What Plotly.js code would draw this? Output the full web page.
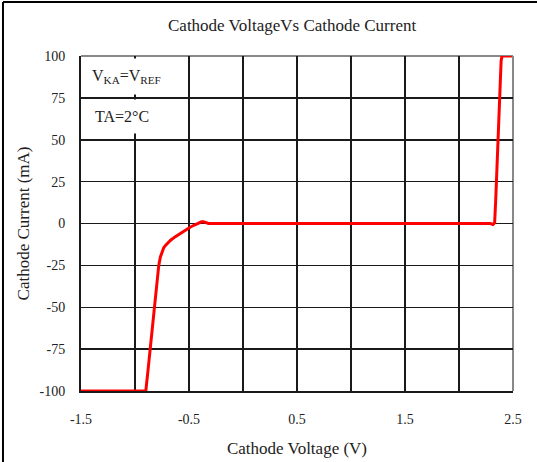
<!DOCTYPE html>
<html>
<head>
<meta charset="utf-8">
<script src="https://cdn.plot.ly/plotly-3.0.1.min.js"></script>
<style>
html,body{margin:0;padding:0;background:#fff;}
#chart{width:537px;height:462px;}
</style>
</head>
<body>
<div id="chart"></div>
<script>
// Cathode voltage (V) and cathode current (mA)
const voltage = [-1.5, -0.9, -0.88, -0.86, -0.84, -0.825, -0.81, -0.795, -0.78, -0.765, -0.75, -0.735, -0.72, -0.70, -0.67, -0.63, -0.58, -0.53, -0.49, -0.45, -0.41, -0.385, -0.365, -0.34, -0.32, 0.0, 0.5, 1.0, 1.5, 2.0, 2.29, 2.315, 2.33, 2.34, 2.35, 2.36, 2.37, 2.38, 2.39, 2.398, 2.49];
const current = [-100, -100, -88, -75, -62, -52, -42, -33, -25, -20, -16.8, -14.6, -13.2, -11.8, -10, -8, -5.8, -3.8, -2.2, -0.9, 0.4, 1.0, 1.0, 0.3, 0, 0, 0, 0, 0, 0, 0, -0.6, 0.5, 14, 31, 50, 70, 88, 97, 100, 100];

const xTickVals = [-1.5, -0.5, 0.5, 1.5, 2.5];
const xTickText = ['-1.5', '-0.5', '0.5', '1.5', '2.5'];
const xMinorVals = [-1.0, 0.0, 1.0, 2.0];
const yTickVals = [-100, -75, -50, -25, 0, 25, 50, 75, 100];
const yTickText = ['-100', '-75', '-50', '-25', '0', '25', '50', '75', '100'];

const titleText = 'Cathode VoltageVs Cathode Current';
const xTitle = 'Cathode Voltage (V)';
const yTitle = 'Cathode Current (mA)';
const note1 = 'V<sub>KA</sub>=V<sub>REF</sub>';
const note2 = 'TA=2°C';

const FONT = '"Liberation Serif", "Times New Roman", "DejaVu Serif", serif';

const trace = {
  x: voltage, y: current, type: 'scatter', mode: 'lines',
  line: {color: '#ff0000', width: 3},
  hoverinfo: 'skip', showlegend: false
};

const layout = {
  width: 537, height: 462,
  margin: {l: 81, r: 24, t: 56, b: 71, pad: 0},
  paper_bgcolor: '#ffffff', plot_bgcolor: '#ffffff',
  font: {family: FONT, color: '#222', size: 14},
  showlegend: false,
  title: {text: titleText, font: {family: FONT, size: 17, color: '#222'},
          x: 0.544, xref: 'container', xanchor: 'center', y: 0.946, yref: 'container', yanchor: 'middle'},
  xaxis: {
    range: [-1.5, 2.5], tickmode: 'array', tickvals: xTickVals, ticktext: xTickText,
    showgrid: true, gridcolor: '#1a1a1a', gridwidth: 1.5, zeroline: false,
    minor: {tickmode: 'array', tickvals: xMinorVals, showgrid: true, gridcolor: '#1a1a1a', gridwidth: 1.5, ticks: ''},
    showline: true, linecolor: '#1a1a1a', linewidth: 2, layer: 'below traces',
    ticks: 'outside', ticklen: 14, tickcolor: 'rgba(0,0,0,0)',
    tickfont: {family: FONT, size: 14, color: '#222'},
    title: {text: xTitle, font: {family: FONT, size: 17, color: '#222'}, standoff: 16},
    fixedrange: true
  },
  yaxis: {
    range: [-100, 100], tickmode: 'array', tickvals: yTickVals, ticktext: yTickText,
    showgrid: true, gridcolor: '#1a1a1a', gridwidth: 1.5, zeroline: false,
    showline: true, linecolor: '#1a1a1a', linewidth: 2, layer: 'below traces',
    ticks: 'outside', ticklen: 11, tickcolor: 'rgba(0,0,0,0)',
    tickfont: {family: FONT, size: 14, color: '#222'},
    title: {text: yTitle, font: {family: FONT, size: 17, color: '#222'}, standoff: 6},
    fixedrange: true
  },
  shapes: [
    {type: 'line', xref: 'paper', yref: 'paper', x0: 0, x1: 1, y0: 1, y1: 1, layer: 'between', line: {color: '#888888', width: 2}},
    {type: 'line', xref: 'paper', yref: 'paper', x0: 1, x1: 1, y0: 0, y1: 1, layer: 'between', line: {color: '#888888', width: 2}},
    {type: 'line', xref: 'paper', yref: 'paper', x0: -0.1806, x1: 1.06, y0: 1.1612, y1: 1.1612, line: {color: '#000', width: 2}},
    {type: 'line', xref: 'paper', yref: 'paper', x0: -0.1806, x1: -0.1806, y0: -0.22, y1: 1.1612, line: {color: '#000', width: 2}}
  ],
  annotations: [
    {text: note1, xref: 'paper', yref: 'paper', x: 0.0046, y: 0.938, xanchor: 'left', yanchor: 'middle',
     showarrow: false, bgcolor: '#ffffff', borderpad: 8, font: {family: FONT, size: 16, color: '#222'}},
    {text: note2, xref: 'paper', yref: 'paper', x: 0.011, y: 0.818, xanchor: 'left', yanchor: 'middle',
     showarrow: false, bgcolor: '#ffffff', borderpad: 8, font: {family: FONT, size: 16, color: '#222'}}
  ]
};

Plotly.newPlot('chart', [trace], layout, {displayModeBar: false, staticPlot: true});
</script>
</body>
</html>
